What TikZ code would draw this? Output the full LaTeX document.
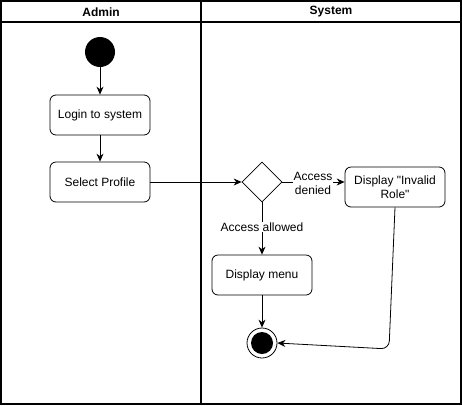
\documentclass[tikz,border=0pt]{standalone}
\usepackage{fontspec}
\newfontfamily\lanefont{Liberation Sans}
\usetikzlibrary{shapes.geometric, arrows.meta, positioning, calc}

\begin{document}
\begin{tikzpicture}[
    x=1pt, y=-1pt,
    font=\lanefont\fontsize{12}{14}\selectfont,
    lane/.style={draw=black, line width=1.5pt},
    action/.style={rectangle, rounded corners=6pt, draw=black, line width=0.8pt,
        minimum width=100pt, minimum height=40pt, align=center, inner sep=2pt},
    flow/.style={-{Stealth[length=8pt,width=7pt]}, line width=0.8pt},
    guard/.style={fill=white, inner sep=1pt, align=center}
]
    \useasboundingbox (0,0) rectangle (462,405);

    % swimlanes
    \draw[lane] (1,1) rectangle (461,404);
    \draw[lane] (1,22) -- (461,22);
    \draw[lane] (201,1) -- (201,404);
    \node[font=\lanefont\fontsize{12}{14}\selectfont\bfseries] (adminHead) at (101,12) {Admin};
    \node[font=\lanefont\fontsize{12}{14}\selectfont\bfseries] (systemHead) at (331,12) {System};

    % admin lane
    \node[circle, fill=black, minimum size=30pt, inner sep=0pt] (start) at (100,52) {};
    \node[action] (login) at (100,115) {Login to system};
    \node[action] (profile) at (100,182) {Select Profile};

    % system lane
    \node[diamond, draw=black, line width=0.8pt, minimum width=40pt, minimum height=40pt,
        inner sep=0pt] (check) at (262,182) {};
    \node[action] (invalid) at (395,187) {Display "Invalid\\Role"};
    \node[action] (menu) at (262,275) {Display menu};
    \node[circle, draw=black, line width=0.8pt, minimum size=30pt, inner sep=0pt] (finish) at (262,343) {};
    \node[circle, fill=black, minimum size=22pt, inner sep=0pt] (finishDot) at (finish) {};
    \coordinate (bend) at (389,349);

    % flows
    \draw[flow] (start) -- (login);
    \draw[flow] (login) -- (profile);
    \draw[flow] (profile) -- (check);
    \draw[flow] (check.east) -- (check.east -| invalid.west);
    \node[guard] (deniedLbl) at (313,183) {Access\\denied};
    \draw[flow] (check) -- (menu);
    \node[guard] (allowedLbl) at (262,227) {Access allowed};
    \draw[flow] (menu) -- (finish);
    \draw[flow, rounded corners=8pt] (invalid.south) -- (bend) -- (finish.east);
\end{tikzpicture}
\end{document}
